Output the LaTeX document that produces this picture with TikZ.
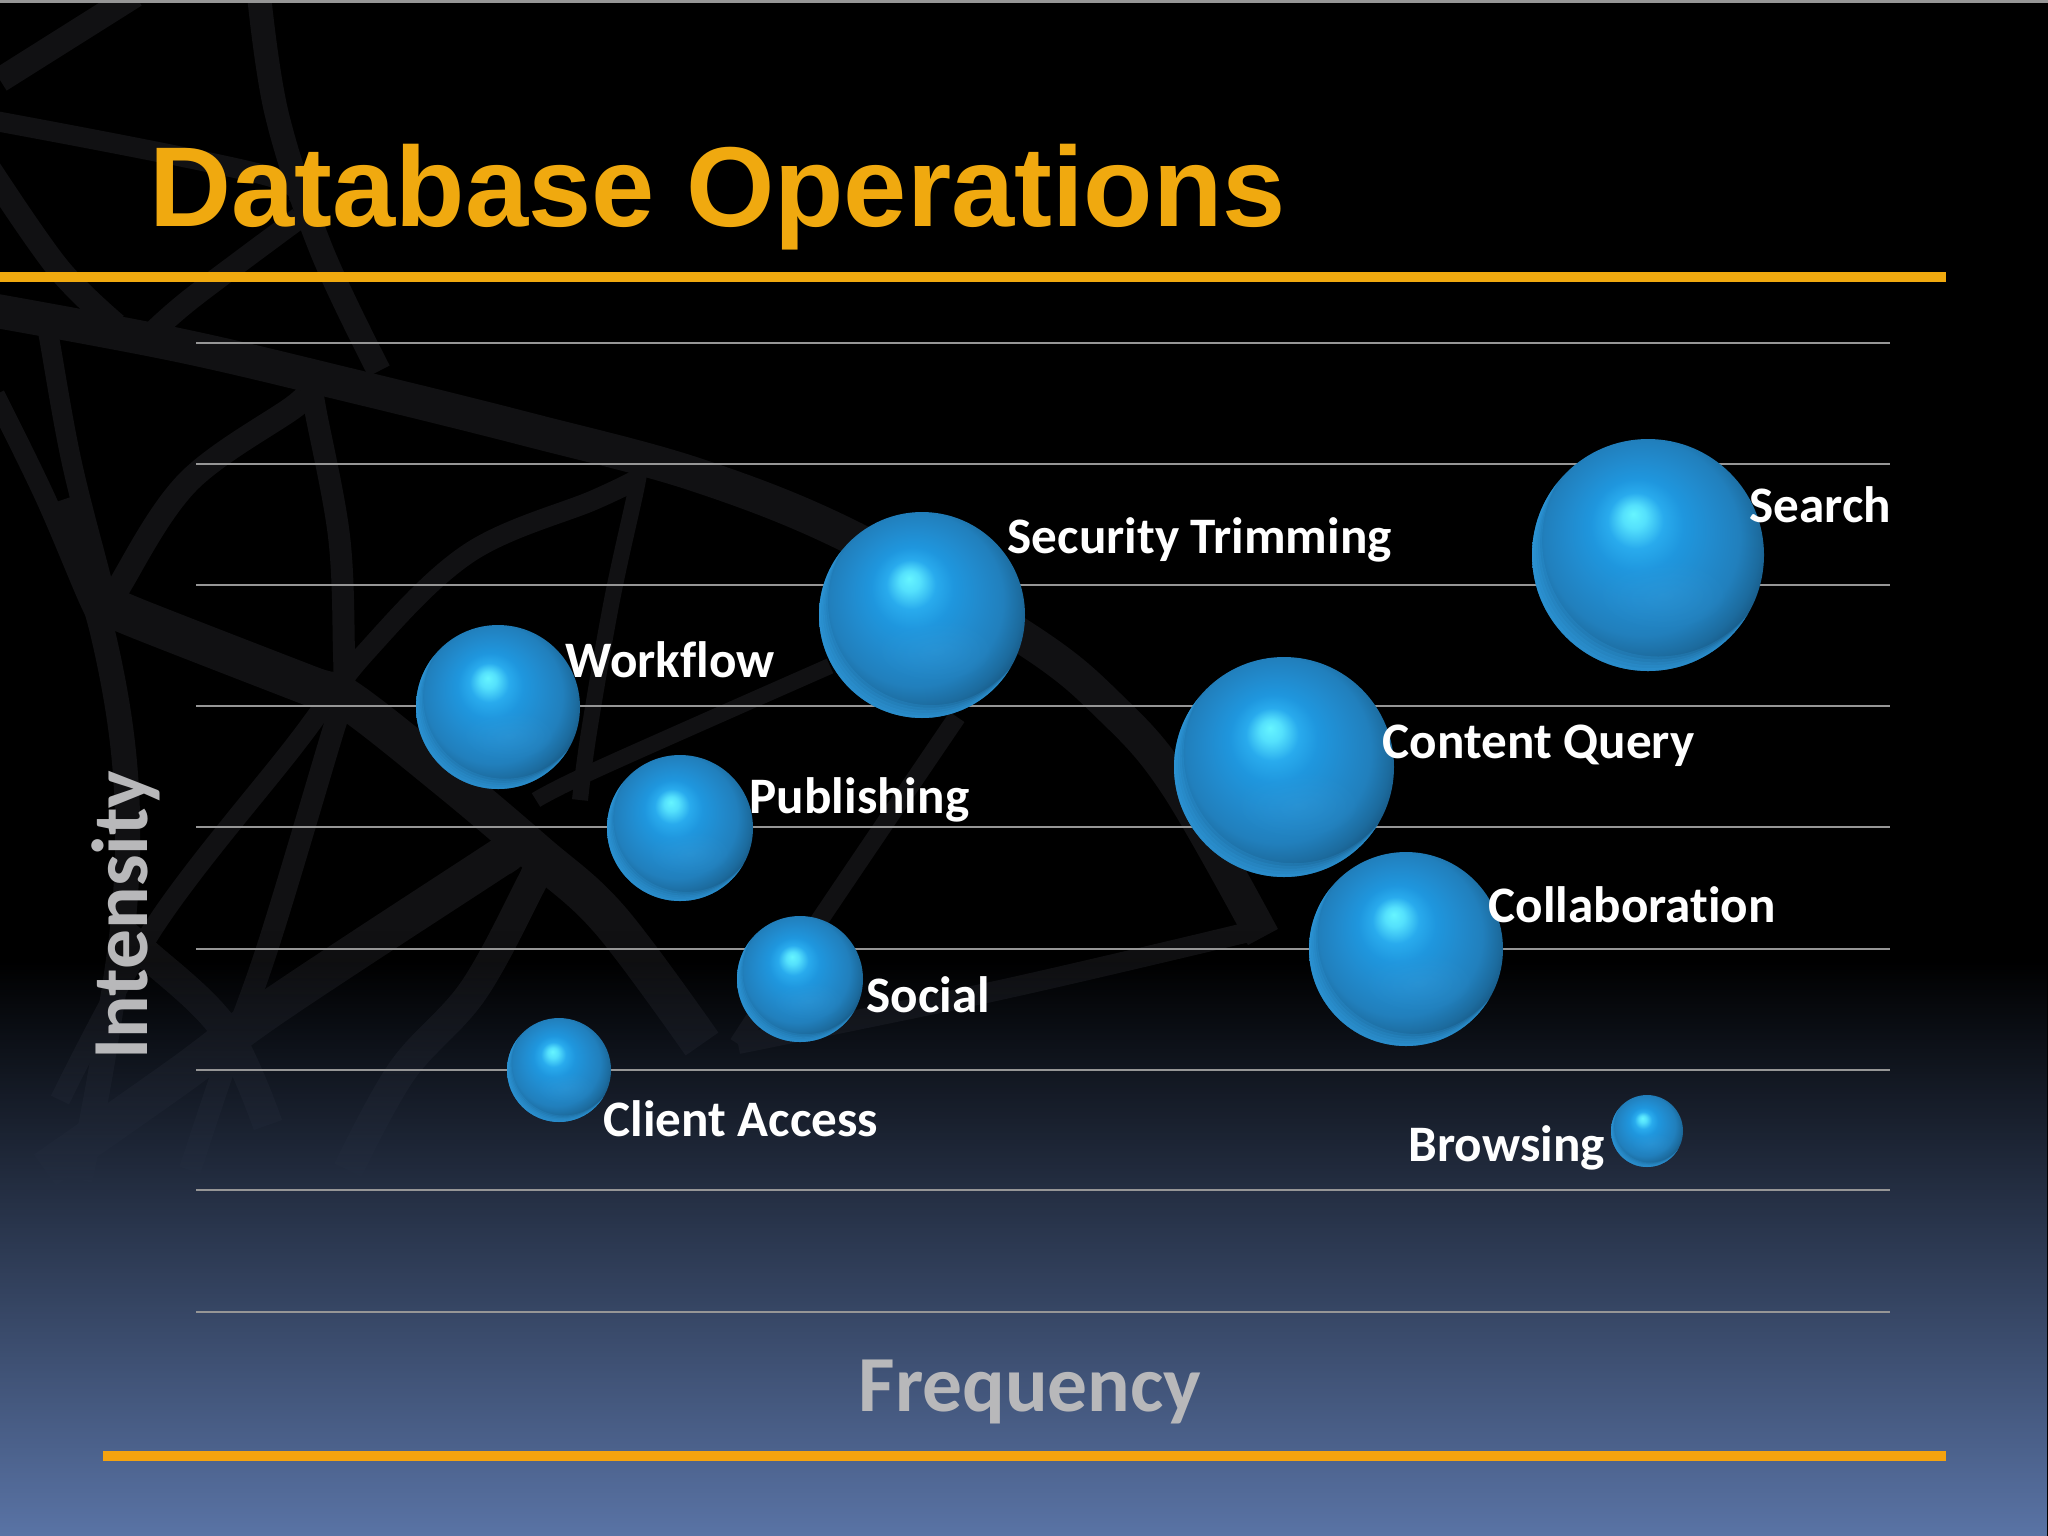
\documentclass[tikz,border=0pt]{standalone}
\usepackage{fontspec}
\setmainfont[Ligatures=NoCommon]{Carlito}
\newfontfamily\titlefont{Liberation Sans}
\usetikzlibrary{fadings}
\definecolor{webc}{HTML}{111113}
\definecolor{gridc}{HTML}{969696}
\definecolor{orangeA}{HTML}{F0A90F}
\definecolor{orangeB}{HTML}{F5A30F}
\definecolor{floorc}{HTML}{5A74A6}
\definecolor{axisc}{HTML}{B8B8BA}
\definecolor{glowc}{HTML}{45A8E4}
\definecolor{rimc}{HTML}{33A4EA}
\definecolor{shadec}{HTML}{0E3F60}
\pgfdeclareradialshading{ballsh}{\pgfpoint{-3.2bp}{8.9bp}}{%
  rgb(0bp)=(0.40,0.96,1.0);
  rgb(2.5bp)=(0.33,0.88,0.99);
  rgb(6bp)=(0.16,0.67,0.93);
  rgb(10bp)=(0.12,0.59,0.87);
  rgb(16bp)=(0.13,0.54,0.80);
  rgb(21bp)=(0.13,0.50,0.74);
  rgb(25bp)=(0.11,0.42,0.62);
  rgb(28.5bp)=(0.08,0.31,0.47);
  rgb(31bp)=(0.09,0.34,0.50);
  rgb(33bp)=(0.15,0.52,0.76);
  rgb(36bp)=(0.20,0.66,0.92)}
\tikzfading[name=rise, bottom color=transparent!0, top color=transparent!100]
\tikzfading[name=softglow, inner color=transparent!80, outer color=transparent!100]
\tikzset{
  webstroke/.style={draw=webc,line width=#1*0.01cm,line join=round},
  gridline/.style={draw=gridc,line width=0.022cm},
  rulea/.style={draw=orangeA,line width=0.1cm},
  ruleb/.style={draw=orangeB,line width=0.1cm},
  ball/.style={circle,inner sep=0pt,shading=ballsh},
  rimband/.style={fill=rimc,even odd rule,opacity=0.2},
  tag/.style={text=white,anchor=base west,inner sep=0pt,font=\fontsize{14.55pt}{17pt}\selectfont\bfseries},
  axislabel/.style={text=axisc,anchor=base west,inner sep=0pt,font=\fontsize{22.6pt}{26pt}\selectfont\bfseries},
  titletext/.style={text=orangeA,anchor=base west,inner sep=0pt,font=\titlefont\fontsize{32.3pt}{38pt}\selectfont\bfseries}
}
\newcommand\wb[2]{\draw[webstroke=#1] plot[smooth,tension=.6] coordinates {#2};}
\newcommand\sphere[4]{%
  \node[ball,minimum size={2*#4*0.01cm}] (#1) at (#2,#3) {};
  \begin{scope}
    \clip (#2,#3) circle [radius=#4];
    \fill[glowc,path fading=softglow] ({#2+0.12*#4},{#3+0.34*#4}) ellipse [x radius={0.6*#4},y radius={0.32*#4}];
    \foreach \k in {0.025,0.05,0.075,0.1,0.125}
      \fill[rimband] (#2,#3) circle [radius={1.05*#4}] ({#2+0.7*\k*#4},{#3-\k*#4}) circle [radius={#4}];
  \end{scope}
}
\begin{document}
\begin{tikzpicture}[x=0.01cm,y=-0.01cm]
\useasboundingbox (0,0) rectangle (2048,1536);
\fill[black] (0,0) rectangle (2048,1536);
% background web
\wb{34}{(-20,308) (178,345) (357,387) (530,430) (700,476) (855,539) (1029,641) (1110,707) (1176,784) (1263,937)}
\wb{20}{(1253,931) (1000,990) (738,1044)}
\wb{20}{(-10,120) (268,176) (295,207)}
\wb{24}{(259,-5) (277,115) (321,249) (379,371)}
\wb{25}{(135,-5) (0,80)}
\wb{24}{(-10,170) (58,268) (116,325)}
\wb{22}{(299,218) (192,298) (150,335)}
\wb{20}{(46,320) (49,337) (71,459) (100,574) (112,620)}
\wb{20}{(-5,395) (45,497) (89,600) (103,625)}
\wb{24}{(305,392) (295,406) (188,482) (120,585) (110,610)}
\wb{22}{(312,385) (315,408) (339,536) (344,652) (344,695)}
\wb{16}{(640,465) (636,490) (612,600) (589,732) (580,800)}
\wb{20}{(640,478) (594,500) (469,553) (366,652) (295,745) (156,924) (60,1100)}
\wb{40}{(110,606) (141,620) (308,685) (348,700) (446,777) (536,853) (610,920) (702,1044)}
\wb{25}{(62,500) (103,634) (125,768) (125,902) (103,1058) (80,1180)}
\wb{22}{(335,725) (330,741) (268,946) (223,1071) (190,1170)}
\wb{38}{(500,858) (487,866) (277,1004) (179,1076) (45,1170)}
\wb{30}{(536,870) (531,884) (473,991) (402,1071) (348,1170)}
\wb{16}{(536,800) (600,768) (830,666)}
\wb{18}{(957,717) (819,921) (738,1044)}
\wb{30}{(125,935) (143,951) (223,1027) (268,1125)}
% web fades out, then the floor glow
\fill[black,path fading=rise] (0,930) rectangle (2048,1200);
\fill[black] (0,1199) rectangle (2048,1536);
\fill[floorc,path fading=rise] (0,960) rectangle (2048,1536);
\fill[gridc] (0,0) rectangle (2048,2.5);
% grid
\foreach \gy in {343,464,585,706,827,949,1070,1190,1312}
  \draw[gridline] (196,\gy) -- (1890,\gy);
% rules
\draw[rulea] (0,277) -- (1946,277);
\draw[ruleb] (103,1456) -- (1946,1456);
% title
\node[titletext] (title) at (149,226) {Database Operations};
% spheres
\sphere{search}{1648}{555}{116}
\sphere{security}{922}{615}{103}
\sphere{workflow}{498}{707}{82}
\sphere{publishing}{680}{828}{73}
\sphere{social}{800}{979}{63}
\sphere{client}{559}{1070}{52}
\sphere{content}{1284}{767}{110}
\sphere{collab}{1406}{949}{97}
\sphere{browsing}{1647}{1131}{36}
% labels
\node[tag] (tsecurity) at (1007,553) {Security Trimming};
\node[tag] (tworkflow) at (565,677) {Workflow};
\node[tag] (tpublishing) at (749,813) {Publishing};
\node[tag] (tsocial) at (866,1012) {Social};
\node[tag] (tclient) at (603,1136) {Client Access};
\node[tag] (tsearch) at (1749,522) {Search};
\node[tag] (tcontent) at (1382,758) {Content Query};
\node[tag] (tcollab) at (1488,922) {Collaboration};
\node[tag] (tbrowsing) at (1408,1161) {Browsing};
\node[axislabel] (freq) at (858,1411) {Frequency};
\node[axislabel,rotate=90] (inten) at (147,1060) {Intensity};
\end{tikzpicture}
\end{document}
